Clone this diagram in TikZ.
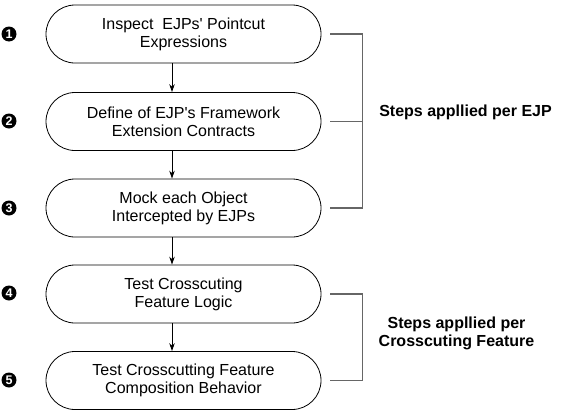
\documentclass[tikz,border=0pt]{standalone}
\usepackage{fontspec}
\setmainfont{Liberation Sans}
\usetikzlibrary{arrows.meta}
\newcommand{\sq}{\textquotesingle}
\begin{document}
\begin{tikzpicture}[x=1pt,y=-1pt,
  stepbox/.style={draw=black, line width=0.8pt, rounded corners=29pt,
    minimum width=275pt, minimum height=58pt, align=center,
    font=\fontsize{16}{18}\selectfont},
  stepnum/.style={circle, fill=black, inner sep=0pt, minimum size=15pt,
    text=white, font=\fontsize{12.5}{12.5}\bfseries},
  flow/.style={draw=black, line width=0.9pt, -{Stealth[length=8pt,width=5.5pt]}},
  brace/.style={draw=black!60, line width=1.3pt},
  bracelabel/.style={align=center, font=\fontsize{16}{18}\bfseries}]
\useasboundingbox (0,0) rectangle (563,410);

% process steps
\node[stepbox] (n1) at (183.5,34)  {Inspect\ \ EJPs\sq{} Pointcut\\Expressions};
\node[stepbox] (n2) at (183.5,121.5) {Define of EJP\sq{}s Framework\\Extension Contracts};
\node[stepbox] (n3) at (183.5,208) {Mock each Object\\Intercepted by EJPs};
\node[stepbox] (n4) at (183.5,294) {Test Crosscuting\\Feature Logic};
\node[stepbox] (n5) at (183.5,380.5) {Test Crosscutting Feature\\Composition Behavior};

% step numbers
\node[stepnum] (k1) at (9,34)    {1};
\node[stepnum] (k2) at (9,121)   {2};
\node[stepnum] (k3) at (9,208)   {3};
\node[stepnum] (k4) at (9,293)   {4};
\node[stepnum] (k5) at (9,380)   {5};

% flow arrows
\foreach \a/\b in {n1/n2,n2/n3,n3/n4,n4/n5}
  \draw[flow] ([xshift=-11.5pt]\a.south) -- ([xshift=-11.5pt]\b.north);

% bracket for the per-EJP steps
\coordinate (b1s) at ([xshift=9pt]n1.east);
\coordinate (b2s) at ([xshift=9pt]n2.east);
\coordinate (b3s) at ([xshift=9pt]n3.east);
\coordinate (b1e) at ([xshift=41pt]n1.east);
\coordinate (b2e) at ([xshift=41pt]n2.east);
\coordinate (b3e) at ([xshift=41pt]n3.east);
\draw[brace] (b1s) -- (b1e) -- (b3e) -- (b3s);
\draw[brace] (b2s) -- (b2e);
\node[bracelabel] (l1) at (465.5,112) {Steps appllied per EJP};

% bracket for the per-feature steps
\coordinate (b4s) at ([xshift=9pt]n4.east);
\coordinate (b5s) at ([xshift=9pt]n5.east);
\coordinate (b4e) at ([xshift=41pt]n4.east);
\coordinate (b5e) at ([xshift=41pt]n5.east);
\draw[brace] (b4s) -- (b4e) -- (b5e) -- (b5s);
\node[bracelabel] (l2) at (456.5,333.5) {Steps appllied per\\Crosscuting Feature};
\end{tikzpicture}
\end{document}
